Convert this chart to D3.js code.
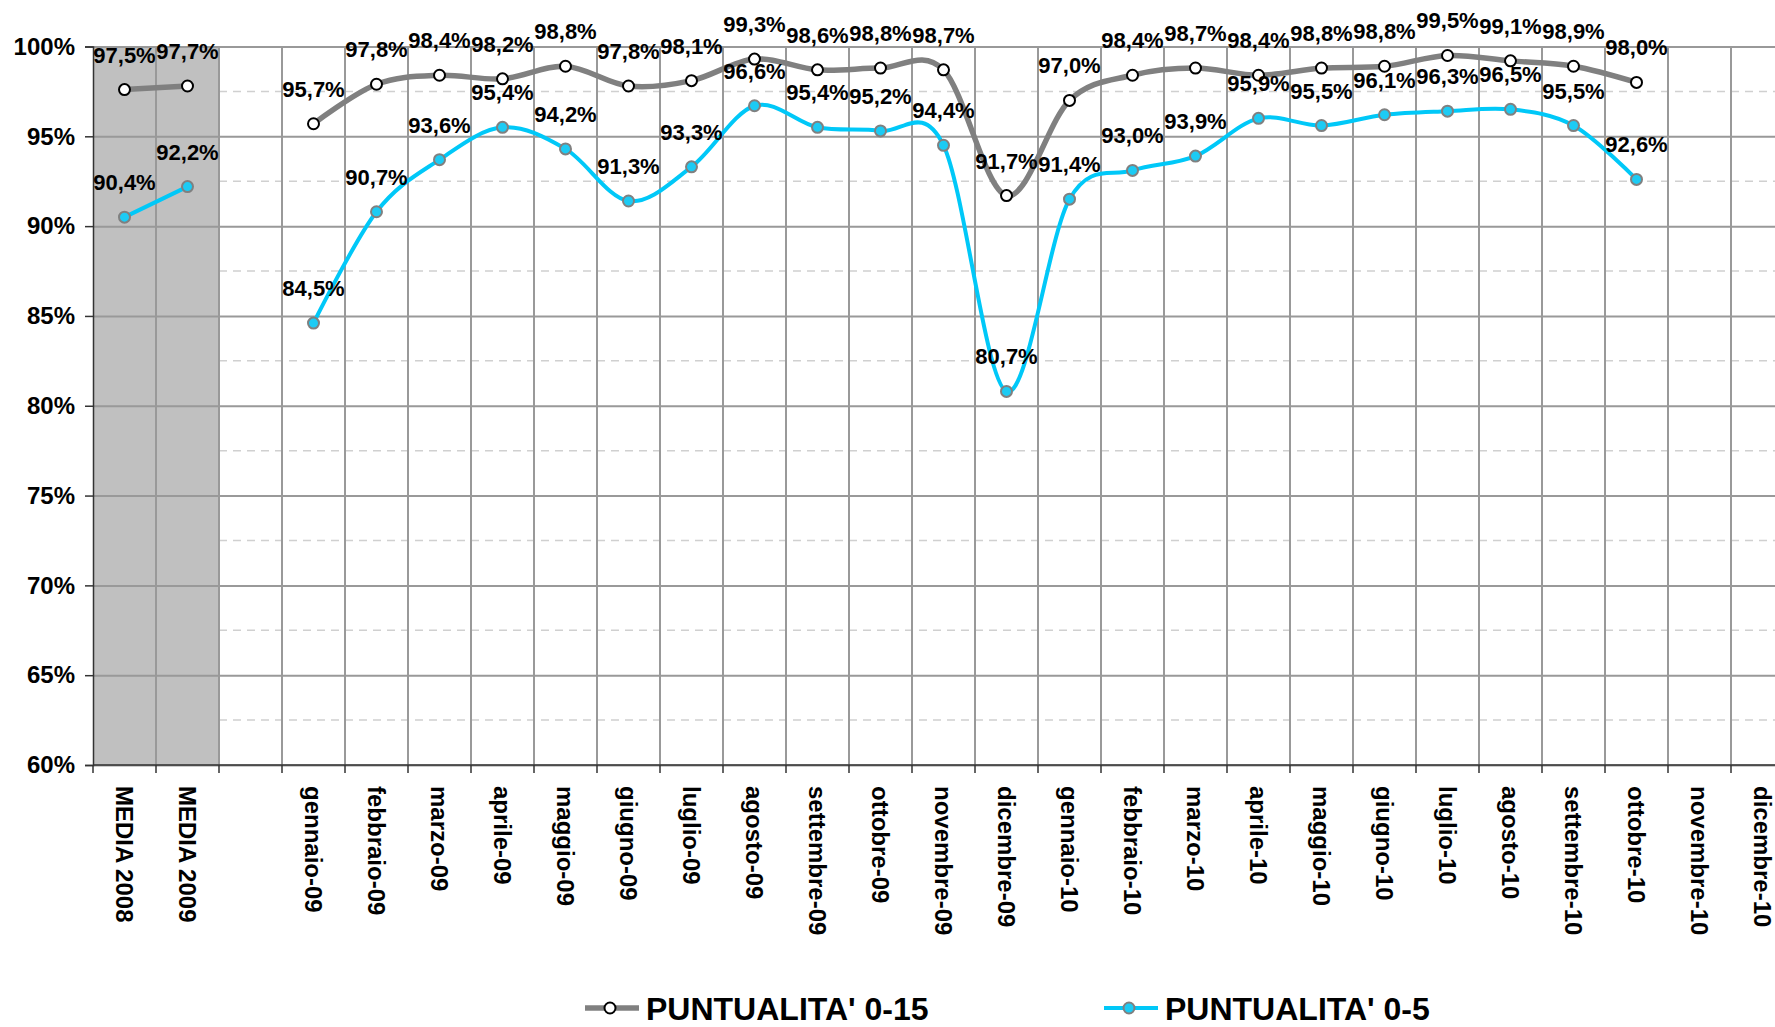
<!DOCTYPE html>
<html>
<head>
<meta charset="utf-8">
<script src="https://cdn.jsdelivr.net/npm/d3@7"></script>
<style>
    body { margin: 0; background: #fff; }
    text { font-family: "Liberation Sans", Arial, sans-serif; font-weight: bold; fill: #000; }
</style>
</head>
<body>
<div id="chart"></div>
<script>
var categories = ['MEDIA 2008', 'MEDIA 2009', '',
    'gennaio-09', 'febbraio-09', 'marzo-09', 'aprile-09', 'maggio-09', 'giugno-09',
    'luglio-09', 'agosto-09', 'settembre-09', 'ottobre-09', 'novembre-09', 'dicembre-09',
    'gennaio-10', 'febbraio-10', 'marzo-10', 'aprile-10', 'maggio-10', 'giugno-10',
    'luglio-10', 'agosto-10', 'settembre-10', 'ottobre-10', 'novembre-10', 'dicembre-10'];

// PUNTUALITA' 0-15
var punt15 = [97.6, 97.8, null,
    95.7, 97.9, 98.4, 98.2, 98.9, 97.8, 98.1, 99.3, 98.7, 98.8, 98.7, 91.7,
    97.0, 98.4, 98.8, 98.4, 98.8, 98.9, 99.5, 99.2, 98.9, 98.0, null, null];
var punt15Labels = ['97,5%', '97,7%', null,
    '95,7%', '97,8%', '98,4%', '98,2%', '98,8%', '97,8%', '98,1%', '99,3%', '98,6%', '98,8%', '98,7%', '91,7%',
    '97,0%', '98,4%', '98,7%', '98,4%', '98,8%', '98,8%', '99,5%', '99,1%', '98,9%', '98,0%', null, null];

// PUNTUALITA' 0-5
var punt5 = [90.5, 92.2, null,
    84.6, 90.8, 93.7, 95.5, 94.3, 91.4, 93.3, 96.7, 95.5, 95.3, 94.5, 80.8,
    91.5, 93.1, 93.9, 96.0, 95.6, 96.2, 96.4, 96.5, 95.6, 92.6, null, null];
var punt5Labels = ['90,4%', '92,2%', null,
    '84,5%', '90,7%', '93,6%', '95,4%', '94,2%', '91,3%', '93,3%', '96,6%', '95,4%', '95,2%', '94,4%', '80,7%',
    '91,4%', '93,0%', '93,9%', '95,9%', '95,5%', '96,1%', '96,3%', '96,5%', '95,5%', '92,6%', null, null];

var yTicks = [60, 65, 70, 75, 80, 85, 90, 95, 100];
var yMinor = [62.5, 67.5, 72.5, 77.5, 82.5, 87.5, 92.5, 97.5];

var width = 1775;
var height = 1027;

var svg = d3.select('#chart')
    .append('svg')
        .attr('width', width)
        .attr('height', height);

var x = d3.scaleBand()
    .domain(categories.map((c, i) => i))
    .range([93, 1794]);

var y = d3.scaleLinear()
    .domain([60, 100])
    .range([765, 46.5]);

var plotTop = y(100), plotBottom = y(60), plotRight = x.range()[1];

// grey band behind the yearly averages
svg.append('rect')
    .attr('x', x(0))
    .attr('y', plotTop)
    .attr('width', x(2) - x(0))
    .attr('height', plotBottom - plotTop)
    .attr('fill', '#c0c0c0');

// dashed minor lines (not over the band)
svg.selectAll('.minor')
    .data(yMinor)
    .enter()
    .append('line')
    .attr('x1', x(2))
    .attr('x2', plotRight)
    .attr('y1', d => y(d))
    .attr('y2', d => y(d))
    .style('stroke', '#d0d0d0')
    .style('stroke-width', 1.5)
    .style('stroke-dasharray', '8,6');

// main grid
svg.append('g')
    .attr('transform', `translate(${x(0)},0)`)
    .call(d3.axisLeft(y).tickValues(yTicks).tickSize(-(plotRight - x(0))).tickFormat(''))
    .call(g => g.select('.domain').remove())
    .selectAll('line')
        .style('stroke', '#999')
        .style('stroke-width', 2);

svg.selectAll('.vgrid')
    .data(d3.range(1, categories.length))
    .enter()
    .append('line')
    .attr('x1', d => x(d))
    .attr('x2', d => x(d))
    .attr('y1', plotTop)
    .attr('y2', plotBottom)
    .style('stroke', '#999')
    .style('stroke-width', 2);

// y axis
svg.append('g')
    .attr('transform', `translate(${x(0)},0)`)
    .call(d3.axisLeft(y).tickValues(yTicks).tickSize(8).tickPadding(10).tickFormat(d => d + '%'))
    .call(g => g.select('.domain').style('stroke', '#333').style('stroke-width', 1.5))
    .call(g => g.selectAll('.tick line').style('stroke', '#333').style('stroke-width', 1.5))
    .selectAll('text')
        .style('font-size', '24px');

// x axis: line, ticks at category boundaries, rotated labels
svg.append('line')
    .attr('x1', x(0))
    .attr('x2', plotRight)
    .attr('y1', plotBottom)
    .attr('y2', plotBottom)
    .style('stroke', '#333')
    .style('stroke-width', 1.5);

svg.selectAll('.xtick')
    .data(d3.range(0, categories.length))
    .enter()
    .append('line')
    .attr('x1', d => x(d))
    .attr('x2', d => x(d))
    .attr('y1', plotBottom)
    .attr('y2', plotBottom + 8)
    .style('stroke', '#333')
    .style('stroke-width', 1.5);

svg.selectAll('.xlabel')
    .data(categories)
    .enter()
    .append('text')
    .attr('transform', (d, i) => `translate(${x(i) + x.bandwidth() / 2},${plotBottom + 21}) rotate(90)`)
    .attr('dominant-baseline', 'central')
    .style('font-size', '24px')
    .text(d => d);

// series
var series = [
    { values: punt15, labels: punt15Labels, color: '#808080', width: 5.5, fill: '#fff', stroke: '#000' },
    { values: punt5, labels: punt5Labels, color: '#00c8f8', width: 4, fill: '#1ccbf4', stroke: '#808080' }
];

var line = d3.line()
    .defined(d => d != null)
    .x((d, i) => x(i) + x.bandwidth() / 2)
    .y(d => y(d))
    .curve(d3.curveCardinal.tension(0));

series.forEach(s => {
    svg.append('path')
        .attr('d', line(s.values))
        .attr('fill', 'none')
        .style('stroke', s.color)
        .style('stroke-width', s.width)
        .style('stroke-linejoin', 'round');
});

series.forEach(s => {
    var pts = s.values.map((v, i) => ({ v: v, i: i, label: s.labels[i] })).filter(d => d.v != null);

    svg.selectAll(null)
        .data(pts)
        .enter()
        .append('circle')
        .attr('cx', d => x(d.i) + x.bandwidth() / 2)
        .attr('cy', d => y(d.v))
        .attr('r', 5.5)
        .attr('fill', s.fill)
        .style('stroke', s.stroke)
        .style('stroke-width', 2);

    svg.selectAll(null)
        .data(pts)
        .enter()
        .append('text')
        .attr('x', d => x(d.i) + x.bandwidth() / 2)
        .attr('y', d => y(d.v) - 27)
        .attr('text-anchor', 'middle')
        .style('font-size', '22px')
        .text(d => d.label);
});

// legend
var legend = [
    { name: "PUNTUALITA' 0-15", s: series[0], x: 585 },
    { name: "PUNTUALITA' 0-5", s: series[1], x: 1104 }
];

legend.forEach(l => {
    var g = svg.append('g').attr('transform', `translate(${l.x},1008)`);
    g.append('line')
        .attr('x1', 0)
        .attr('x2', 54)
        .style('stroke', l.s.color)
        .style('stroke-width', l.s.width);
    g.append('circle')
        .attr('cx', 25)
        .attr('r', 5.5)
        .attr('fill', l.s.fill)
        .style('stroke', l.s.stroke)
        .style('stroke-width', 2);
    g.append('text')
        .attr('x', 61)
        .attr('y', 12)
        .style('font-size', '32px')
        .text(l.name);
});
</script>
</body>
</html>
